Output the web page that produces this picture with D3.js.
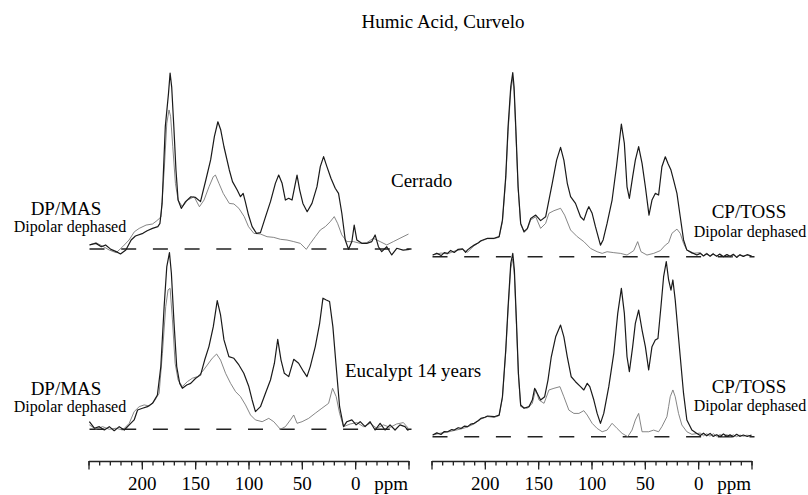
<!DOCTYPE html>
<html>
<head>
<meta charset="UTF-8">
<title>Humic Acid, Curvelo</title>
<script src="https://cdn.jsdelivr.net/npm/d3@7"></script>
<style>
  body { margin:0; background:#fff; }
  svg { display:block; font-family:"Liberation Serif","Times New Roman",serif; }
</style>
</head>
<body>
<svg id="chart" width="808" height="495"></svg>
<script>
// ppm ticks
const majorTicks = [250, 200, 150, 100, 50, 0, -50];
const tickLabels = [200, 150, 100, 50, 0];

// spectra: [ppm, relative intensity], 100 = tallest peak of the panel
// Cerrado, DP/MAS
const cerradoDpFull = [[249,2.3],[243,3.2],[238,1.3],[234,2.3],[229,-0.2],[224,-1.5],[220,-2.8],[215,-0.6],[210,5.1],[206,7.4],[199,8.9],[195,10.4],[190,11.7],[185,12.7],[183,14.6],[181,25.9],[178,69.5],[175,88.4],[173.5,100],[172,92],[170,69.5],[168,44.9],[166,27.8],[163,23.1],[159,26.9],[154,29.7],[150,29.4],[145,26.9],[140,39.2],[135.5,50.6],[132,63.8],[128.7,72.3],[126,67.6],[123,58.1],[118,44.9],[115,38.3],[110.6,33.5],[107.5,29.7],[105,31.6],[103,26.9],[100,19.3],[96.6,12.7],[92.5,8.9],[88.8,9.3],[84,18.4],[79.4,26.9],[74.8,37.3],[71.7,42],[68.5,37.3],[65.4,27.8],[62.3,28.8],[59.2,27.8],[54.5,42],[52,33.5],[49,25.9],[45,21.2],[40.5,25.9],[35.8,35.4],[32.7,46.8],[29.6,52.5],[26.5,46.8],[22.7,40.2],[18.7,34.5],[15.6,31.6],[12.5,20.3],[9.3,5.1],[6.2,-0.2],[3.1,4.2],[0.9,13.6],[-1.6,5.1],[-6.2,3.2],[-10.9,3.2],[-15.6,4.2],[-18.7,8],[-21.8,1.3],[-24.9,-1.5],[-29.6,1.3],[-34.3,-3.4],[-39,0.4],[-45,-0.6],[-51,-0.2]];
const cerradoDpDeph = [[249,2.3],[243,3.6],[237,1.7],[230.5,-0.6],[224,-2.1],[218,1.3],[212,5.1],[207,9.8],[202.5,11.7],[196,13.6],[190,14.2],[185,16.5],[182,18.4],[179,44.9],[176.6,71.4],[174.5,79],[173,75.2],[171,58.1],[168.5,37.3],[166,27.8],[162,24],[157,27.8],[151,29.7],[146,24],[141.7,27.8],[137,35.4],[133,41.1],[131,42],[127.7,37.3],[123.7,31.6],[118,25.9],[113.7,25.6],[109,23.1],[104,18.4],[100,12.7],[95,8.9],[88.8,8.5],[82.6,7],[76.3,6.6],[70,5.5],[63.9,5.1],[57.6,4.2],[51.4,3.2],[45.8,-0.2],[42,3.2],[37.4,7],[32.7,10.8],[28,12.7],[23.4,15.5],[19.6,18.4],[16.5,14.6],[12.5,8],[7.8,4.2],[1.6,4.2],[-4.7,3.2],[-10.9,3.6],[-17,6.1],[-23.4,4.2],[-29.6,2.3],[-35.8,4.2],[-42,6.1],[-50,8.5]];

// Cerrado, CP/TOSS
const cerradoCpFull = [[248.9,0.9],[245,1.9],[241,0.6],[238,2.2],[235,1.8],[232,3.4],[228.7,2.3],[225,4],[220.9,4.3],[218,2.4],[216.2,3.7],[213,5.1],[210,6.3],[206,7.6],[203.7,8.7],[197.5,10],[191.3,10],[186.6,10.9],[183.5,19.9],[180.4,43.5],[178.2,70.7],[175.7,92.4],[173.8,100],[172.6,92.4],[171,70.7],[168.8,38],[166.4,18.1],[163.2,13.6],[160.1,15.4],[157,20.8],[152.3,22.6],[147.7,19.6],[143,21.7],[139.9,30.8],[136.8,39.9],[132.7,52.5],[129,59.4],[125.9,52.5],[122.7,39.9],[119.6,32.6],[115,29],[110.3,21.7],[107.2,19.9],[104,25.4],[102.5,27.2],[99.4,23.6],[96.3,16.3],[91.6,6.3],[89.1,9.1],[85.4,18.1],[80.7,30.8],[76.6,48.9],[72,72.1],[69.2,61.6],[66.7,38],[64.5,31.7],[61.4,43.5],[58.9,52.5],[55.8,59.8],[52.6,50.7],[49.5,38],[46.1,22.6],[43.3,30.8],[40.2,34.4],[37.1,33.5],[34,48.9],[30.8,54.3],[28.3,50.7],[25.5,47.1],[23.1,41.7],[19.9,34.4],[16.8,21.7],[13.7,9.1],[10.6,3.6],[5.9,2.2],[1.2,0.9],[-2,1.8],[-5,0.4],[-8,1.6],[-11.2,0.2],[-14,1.5],[-17.4,0.3],[-20,1.4],[-23.7,0],[-27,1.2],[-29.9,0.2],[-33,1.3],[-36.1,-0.4],[-39,1],[-42.4,0.2],[-46,1.1],[-50,0.4]];
const cerradoCpDeph = [[248.9,0.9],[241,2],[235,1.5],[228.7,3],[220.9,4],[216.2,2.5],[210,6],[203.7,8.4],[197.5,9.8],[191.3,9.8],[186.6,10.6],[183.5,19],[180.4,42],[178.2,68],[175.7,90],[173.8,97],[172.6,90],[171,68],[168.8,37],[166.4,17.5],[163.2,13.2],[160.1,15],[157,20],[152.3,21.7],[147.7,15.4],[143,18.1],[139.9,23.6],[135.2,25],[129,26.3],[125.2,22.6],[119.6,14.5],[113.4,10.9],[107.2,8.2],[100.9,4.5],[94.7,2.7],[90,1.8],[85.4,2.7],[79.1,2.2],[72.9,1.8],[66.7,0.9],[60.4,3.3],[56.7,8.2],[53.6,2.7],[48,0.9],[41.7,1.8],[35.5,3.3],[30.8,6.3],[27.7,7.6],[24.6,12.7],[19.9,15],[16.8,12.7],[13.7,7.2],[10.6,3.6],[5.9,1.8],[-1.9,2.2],[-5,0.6],[-8.1,1.9],[-11,0.5],[-14.3,1.8],[-17,0.2],[-20.6,1.4],[-23.5,0.2],[-26.8,1.1],[-30,-0.2],[-33,0.9],[-36,0.1],[-39.3,1.2],[-42,0.2],[-45.5,0.9],[-50,0.5]];

// Eucalypt 14 years, DP/MAS
const eucalyptDpFull = [[249.2,4.3],[244.5,0.6],[239.9,1.5],[235.2,-0.4],[230.5,1.5],[225.9,-0.8],[221.2,1.5],[216.5,-0.4],[211.8,2.5],[207.2,5.3],[204,10.9],[199.4,11.9],[194.7,12.8],[190,14.7],[185.4,19.4],[182.2,35.5],[179.1,69.4],[176.6,92.1],[174.1,100],[172.3,88.3],[169.8,60],[167.3,35.5],[164.5,26],[162,23.2],[157.9,25.1],[154.2,26],[149.5,28.9],[144.9,30.8],[141.1,39.2],[137.1,46.8],[133,58.1],[129.3,72.8],[126.2,64.7],[123,50.6],[118.4,41.1],[113.7,40.2],[109,36.4],[104.4,31.7],[99.7,24.2],[96.6,16.6],[93.5,10],[88.8,12.8],[84.1,20.4],[79.4,27.9],[75.7,37.4],[72.6,50.9],[69.5,39.2],[66.4,31.7],[62.3,29.8],[57.6,39.6],[53,37.4],[48.3,32.6],[45.2,29.8],[42.1,35.5],[37.4,46.8],[33.3,60],[30.2,74.2],[27.1,73.2],[24,72.3],[20.9,58.1],[17.8,35.5],[14.6,12.8],[10.9,1.5],[7.8,4.3],[3.1,5.3],[-0.9,2.5],[-4.7,4.3],[-9.3,1.5],[-14,4.3],[-18.7,-0.4],[-23.4,3.4],[-28,-0.4],[-32.7,2.5],[-37.4,-0.4],[-42,2.5],[-46.7,1.5],[-49.8,-0.8]];
const eucalyptDpDeph = [[249.2,2.5],[243,0],[236.8,1.5],[230.5,0],[224.3,0.6],[218,-0.4],[211.8,3.4],[207.2,10],[202.5,12.8],[197.8,13.8],[193.1,13.2],[188.5,15.7],[183.8,20.4],[180.7,43],[177.6,69.4],[175.4,78.9],[173.5,79.8],[171.3,61.9],[168.8,37.4],[166,27.9],[162,24.2],[157.3,27],[152.6,28.9],[148,29.8],[143.3,32.6],[138.6,36.4],[134,40.2],[129.9,42.6],[126.2,39.2],[121.5,31.7],[116.8,26],[112.1,21.3],[107.5,18.5],[102.8,13.8],[98.1,8.1],[93.5,5.3],[87.2,4.3],[81,6.2],[76.3,4.3],[70.1,0],[65.4,1.5],[60.7,5.3],[57.6,8.1],[54.5,3.4],[49.8,4.3],[43.6,6.2],[37.4,9.1],[31.2,11.9],[24.9,14.7],[21.2,23.2],[17.8,18.5],[14.6,9.1],[10.9,1.5],[4.7,3],[-1.6,3.8],[-7.8,1.5],[-14,3.4],[-20.2,0.6],[-26.5,2.5],[-32.7,1.1],[-38.9,3],[-45.2,3.8],[-49.8,0.6]];

// Eucalypt 14 years, CP/TOSS
const eucalyptCpFull = [[248.9,0.9],[245,2.1],[241.1,1.2],[238,2.8],[234.9,2.7],[231,3.9],[228.7,3.6],[225,4.9],[222.4,4.5],[219,5.8],[216.2,5.5],[213,6.9],[210,7.3],[206,8.8],[203.7,10],[200,10.6],[197.5,11.3],[191.3,10.9],[186.6,11.8],[183.5,21.8],[180.4,47.3],[178.2,70.9],[175.7,94.5],[173.8,100],[172.3,90.9],[170.4,63.6],[168.5,34.5],[166.4,17.3],[163.2,15.5],[158.6,16.4],[155.5,20],[153.3,26.4],[150.8,23.6],[147.7,20],[143.9,21.8],[140.8,30.9],[137.7,43.6],[133.6,54.5],[129,60.9],[125.9,54.5],[122.7,43.6],[119,32.7],[115,30],[110.3,27.3],[107.2,25.5],[104,29.1],[101.6,27.3],[97.8,20],[94.7,12.7],[91.6,7.3],[88.5,12.7],[83.8,27.3],[79.1,45.5],[75.4,67.3],[72,80.9],[69.2,67.3],[66.7,43.6],[64.5,35.5],[61.4,49.1],[58.9,61.8],[55.8,69.1],[52.6,58.2],[49.5,49.1],[46.4,36.4],[43.3,49.1],[40.2,52.7],[37.7,53.6],[34.9,70.9],[32.4,87.3],[29.9,95.5],[27.7,85.5],[25.5,80],[23.7,85.5],[21.5,74.5],[19.3,60],[16.8,43.6],[13.7,23.6],[10.6,9.1],[5.9,3.6],[1.2,1.8],[-2,0.6],[-5,1.9],[-8,0.5],[-11.2,1.8],[-14,0.2],[-17.4,1.1],[-20.5,0.1],[-23.7,1.5],[-27,0.2],[-29.9,1],[-33,0],[-36.1,1.3],[-39,0.2],[-42.4,0.9],[-46,0.1],[-50,0.9]];
const eucalyptCpDeph = [[248.9,0.9],[241.1,2],[234.9,2.5],[228.7,3.4],[222.4,4.2],[216.2,5.3],[210,7],[203.7,9.6],[197.5,11],[191.3,10.5],[186.6,11.5],[183.5,21],[180.4,46],[178.2,69],[175.7,92],[173.8,97],[172.3,88],[170.4,61],[168.5,33],[166.4,16.4],[160.1,15.5],[155.5,18.2],[152.3,25.8],[149.2,20],[144.5,18.2],[139.9,25.5],[135.2,26.4],[129.6,27.3],[125.9,21.8],[121.2,14.5],[116.5,12.7],[111.8,12.7],[107.2,14.2],[104,11.8],[99.4,7.3],[94.7,4.5],[90,2.7],[85.4,3.6],[80.7,7.3],[76,4.5],[71.3,1.8],[66,0],[62,3.6],[58.9,9.1],[55.8,12.7],[52.6,2.7],[46.4,2.7],[41.7,3.6],[37.1,2.7],[34,5.5],[29.3,10.9],[27.7,16.4],[26.2,21.8],[23.7,25.5],[21.5,21.8],[18.4,12.7],[15.3,6.4],[10.6,2.7],[5.9,1.3],[-1.9,2],[-5,0.5],[-8.1,1.6],[-11,0.3],[-14.3,1.6],[-17.5,0.2],[-20.6,1.2],[-23.5,0],[-26.8,1.1],[-30,0.1],[-33,1],[-36,0],[-39.3,0.9],[-42.5,0.2],[-45.5,0.8],[-50,0.5]];

const svg = d3.select("#chart");

const xLeft = d3.scaleLinear().domain([250, -50]).range([88.5, 408.5]);
const xRight = d3.scaleLinear().domain([250, -50]).range([431.5, 751.5]);

const panels = [
  { x: xLeft,  base: 249,   top: 73,    full: cerradoDpFull,  deph: cerradoDpDeph },
  { x: xRight, base: 256.7, top: 72.7,  full: cerradoCpFull,  deph: cerradoCpDeph },
  { x: xLeft,  base: 429.3, top: 252.6, full: eucalyptDpFull, deph: eucalyptDpDeph },
  { x: xRight, base: 436.7, top: 253.4, full: eucalyptCpFull, deph: eucalyptCpDeph }
];

panels.forEach(p => {
  const y = d3.scaleLinear().domain([0, 100]).range([p.base, p.top]);
  const line = d3.line().x(d => p.x(d[0])).y(d => y(d[1]));

  // dashed zero line
  svg.append("line")
    .attr("x1", p.x(250) + 1).attr("x2", p.x(-50) + 3)
    .attr("y1", y(0)).attr("y2", y(0))
    .attr("stroke", "#222").attr("stroke-width", 1.4)
    .attr("stroke-dasharray", "15,16.7");

  svg.append("path").datum(p.deph)
    .attr("d", line).attr("fill", "none")
    .attr("stroke", "#707070").attr("stroke-width", 0.85);

  svg.append("path").datum(p.full)
    .attr("d", line).attr("fill", "none")
    .attr("stroke", "#1a1a1a").attr("stroke-width", 1.2)
    .attr("stroke-linejoin", "round");
});

// ppm axes
[xLeft, xRight].forEach(x => {
  svg.append("g").attr("transform", "translate(0,461)")
    .call(d3.axisBottom(x).tickValues(d3.range(-50, 251, 10)).tickSize(4.5).tickSizeOuter(0).tickFormat(""));
  const major = svg.append("g").attr("transform", "translate(0,461)")
    .call(d3.axisBottom(x).tickValues(majorTicks).tickSize(8.5).tickPadding(7)
      .tickFormat(d => tickLabels.includes(d) ? d : ""));
  major.select(".domain").remove();
  svg.selectAll(".tick line, .domain").attr("stroke", "#222").attr("stroke-width", 1.3);
  major.selectAll("text").attr("font-size", 19).attr("font-family", "Liberation Serif").attr("fill", "#000");
  svg.append("text").attr("x", x(-18)).attr("y", 490)
    .attr("font-size", 19).text("ppm");
});

// labels
const label = (txt, x, y, size, anchor) => svg.append("text")
  .attr("x", x).attr("y", y).attr("font-size", size)
  .attr("text-anchor", anchor || "middle").text(txt);

label("Humic Acid, Curvelo", 443, 28, 19);
label("DP/MAS", 66, 215, 19);
label("Dipolar dephased", 70, 232, 16);
label("Cerrado", 391, 187, 19, "start");
label("CP/TOSS", 749, 218, 19);
label("Dipolar dephased", 750, 237, 16);
label("DP/MAS", 66, 395, 19);
label("Dipolar dephased", 70, 412, 16);
label("Eucalypt 14 years", 345, 377, 19, "start");
label("CP/TOSS", 749, 393, 19);
label("Dipolar dephased", 750, 411, 16);
</script>
</body>
</html>
